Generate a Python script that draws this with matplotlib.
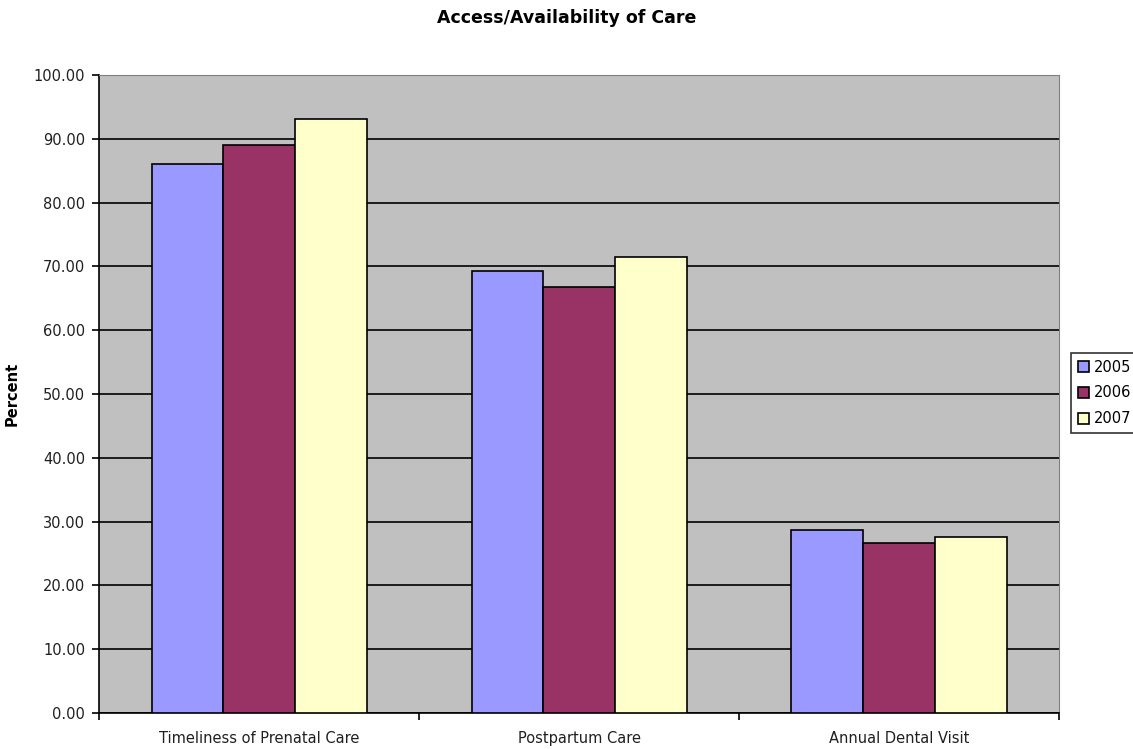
import matplotlib.pyplot as plt
import numpy as np

plt.rcParams['font.family'] = ['DejaVu Sans']

# data
categories = ["Timeliness of Prenatal Care", "Postpartum Care", "Annual Dental Visit"]
years = ["2005", "2006", "2007"]
v2005 = [86.1, 69.2, 28.7]
v2006 = [89.0, 66.7, 26.6]
v2007 = [93.1, 71.5, 27.6]
colors = ["#9999FF", "#993366", "#FFFFCC"]

fig = plt.figure(figsize=(11.33, 7.49), dpi=100)
ax = fig.add_axes([0.0874, 0.048, 0.8473, 0.852])
ax.set_facecolor("#C0C0C0")

x = np.arange(len(categories))
w = 0.224
for i, (vals, lab, c) in enumerate(zip([v2005, v2006, v2007], years, colors)):
    ax.bar(x + (i - 1) * w, vals, w, color=c, edgecolor="black", linewidth=1.2,
           label=lab, zorder=3)

ax.set_xlim(-0.5, 2.5)
ax.set_ylim(0, 100)
ax.set_yticks(np.arange(0, 101, 10))
ax.set_yticklabels(["%.2f" % v for v in np.arange(0, 101, 10)], fontsize=10.5,
                   color="#202020")
ax.yaxis.grid(True, color="black", linewidth=1.2, zorder=1)
ax.set_axisbelow(True)

# category ticks on boundaries, labels at centers
ax.set_xticks([-0.5, 0.5, 1.5, 2.5])
ax.set_xticklabels([])
ax.set_xticks(x, minor=True)
ax.set_xticklabels(categories, minor=True, fontsize=10.5, color="#202020")
ax.tick_params(axis="x", which="minor", length=0, pad=13)
ax.tick_params(axis="x", which="major", length=5, width=1.2)
ax.tick_params(axis="y", length=5, width=1.2, pad=5)

for s in ["top", "right"]:
    ax.spines[s].set_color("#808080")
for s in ["left", "bottom"]:
    ax.spines[s].set_linewidth(1.2)

ax.set_ylabel("Percent", fontsize=10.5, fontweight="bold", labelpad=10)
fig.suptitle("Access/Availability of Care", fontsize=12.5, fontweight="bold",
             x=0.5, y=0.988)

leg = ax.legend(loc="center left", bbox_to_anchor=(1.0125, 0.5016), fontsize=10.5,
                frameon=True, fancybox=False, edgecolor="black",
                handlelength=0.75, handleheight=0.75, handletextpad=0.35,
                borderpad=0.45, labelspacing=0.75, borderaxespad=0)
leg.get_frame().set_linewidth(1.2)

plt.savefig("out.png", dpi=100)
